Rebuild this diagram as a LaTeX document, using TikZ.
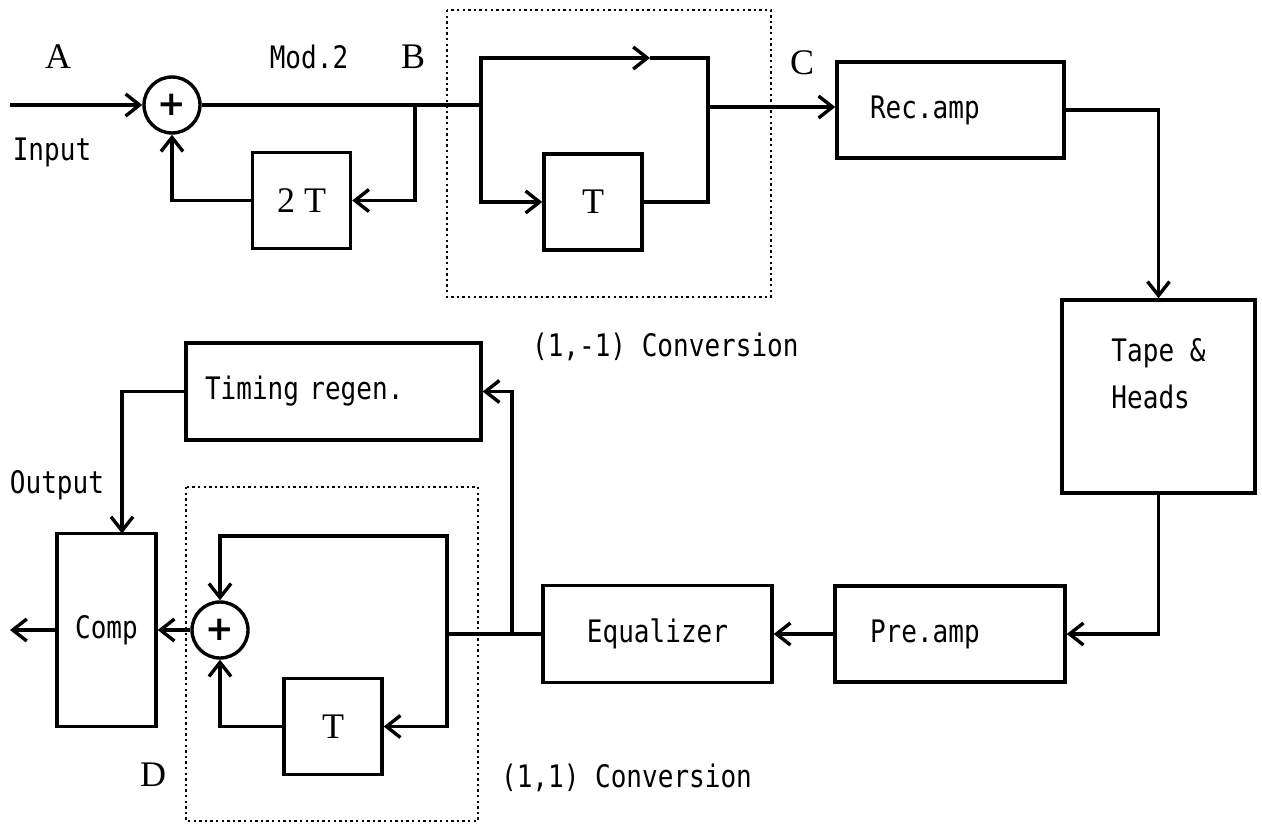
\documentclass[tikz,border=0pt]{standalone}
\usepackage{fontspec}
\setmainfont{Liberation Serif}
\newfontfamily\gothic[FakeStretch=0.84]{DejaVu Sans Mono}
\newfontfamily\plusfont{DejaVu Sans}
\usetikzlibrary{arrows.meta}

\begin{document}
\begin{tikzpicture}[
  >={Straight Barb[length=7pt,width=11pt]}, x=0.5pt, y=-0.5pt,
  blk/.style={draw, line width=1.7pt, inner sep=0pt,
              font=\gothic\fontsize{15.5}{23.5}\selectfont},
  delay/.style={draw, line width=1.7pt, inner sep=0pt,
                minimum width=49pt, minimum height=48pt,
                font=\fontsize{18}{18}\selectfont},
  sum/.style={circle, draw, line width=1.7pt, inner sep=0pt,
              minimum size=28pt, font=\plusfont\bfseries\fontsize{17}{17}\selectfont},
  conn/.style={line width=1.7pt},
  conv/.style={line width=0.6pt, dash pattern=on 1.2pt off 1.6pt},
  tag/.style={font=\fontsize{18}{18}\selectfont},
  note/.style={font=\gothic\fontsize{15.5}{15.5}\selectfont}
]
\useasboundingbox (0,0) rectangle (1262,824);

% recording side
\coordinate (in0) at (10,105);
\node[sum] (add1) at (172,105) {+};
\coordinate (jB) at (415,105);
\coordinate (sp) at (481,105);
\node[delay] (dT2) at (301.5,200.5) {2 T};
\node[delay] (dT1) at (593,202) {T};
\coordinate (tip1) at (650,58);
\coordinate (mr) at (708,107);
\node[blk, minimum width=113.5pt, minimum height=48pt, inner xsep=16.5pt,
      text width=80.5pt, align=left] (rec) at (950.5,110) {Rec.amp};
\node[blk, minimum width=96.5pt, minimum height=96.5pt, align=left]
  (tape) at (1158.5,396.5) {Tape \&\\Heads\\\mbox{}};

% playback side
\node[blk, minimum width=115pt, minimum height=48pt, inner xsep=17.5pt,
      text width=80pt, align=left] (pre) at (950,634) {Pre.amp};
\node[blk, minimum width=114.5pt, minimum height=48.5pt] (eq) at (657.5,634) {Equalizer};
\coordinate (jE) at (512,634);
\coordinate (jR) at (447,634);
\node[blk, minimum width=147.5pt, minimum height=48.5pt, inner xsep=9.5pt,
      text width=128.5pt, align=left] (tim) at (333.5,391.5) {Timing regen.};
\node[blk, minimum width=49.5pt, minimum height=96.5pt] (comp) at (106.5,630) {Comp};
\coordinate (ctop) at (122,533.5);
\coordinate (out0) at (10,630);
\node[sum] (add2) at (220,630) {+};
\coordinate (lt) at (220,536);
\node[delay] (dT3) at (333,726.5) {T};

% (1,-1) and (1,1) conversion frames
\draw[conv] (447,10) rectangle (771,297);
\draw[conv] (186,487) rectangle (478,821);

\draw[conn,->] (in0) -- (add1);
\draw[conn] (add1) -- (sp);
\draw[conn,->] (jB) |- (dT2);
\draw[conn,->] (dT2) -| (add1);
\draw[conn,->] (sp) |- (tip1);
\draw[conn] (tip1) -| (mr);
\draw[conn,->] (sp) |- (dT1);
\draw[conn] (dT1) -| (mr);
\draw[conn,->] (mr) -- (mr -| rec.west);
\draw[conn,->] (rec) -| (tape);
\draw[conn,->] (tape) |- (pre);
\draw[conn,->] (pre) -- (eq);
\draw[conn] (eq) -- (jR);
\draw[conn,->] (jE) |- (tim);
\draw[conn,->] (tim) -| (ctop);
\draw[conn,->] (comp) -- (out0);
\draw[conn,->] (add2) -- (comp);
\draw[conn,->] (jR) |- (lt) -- (add2);
\draw[conn,->] (jR) |- (dT3);
\draw[conn,->] (dT3) -| (add2);

\node[tag] (lA) at (58,57) {A};
\node[tag] (lB) at (413,57) {B};
\node[tag] (lC) at (802,63) {C};
\node[tag] (lD) at (153,775) {D};
\node[note] (lmod) at (309,57) {Mod.2};
\node[note] (lin) at (52,152) {Input};
\node[note] (lout) at (57,485) {Output};
\node[note, anchor=west] (lc1) at (525,347) {(1,-1) Conversion};
\node[note, anchor=west] (lc2) at (494,778) {(1,1) Conversion};

\end{tikzpicture}
\end{document}
